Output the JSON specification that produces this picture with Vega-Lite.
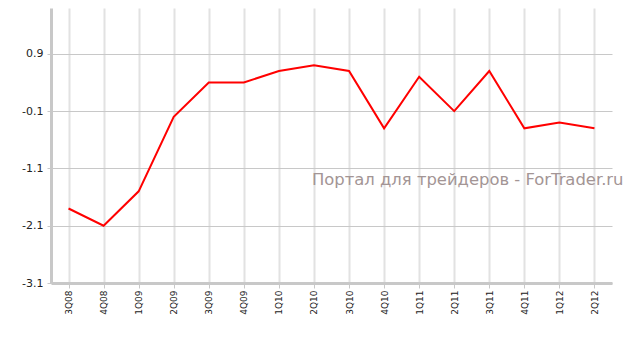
{
  "$schema": "https://vega.github.io/schema/vega-lite/v6.json",
  "width": 561,
  "height": 275,
  "autosize": "none",
  "padding": {"left": 51, "top": 8, "right": 17, "bottom": 54},
  "background": "white",
  "config": {
    "view": {"stroke": null},
    "font": "DejaVu Sans"
  },
  "data": {
    "values": [
      {"q": "3Q08", "v": -1.8},
      {"q": "4Q08", "v": -2.1},
      {"q": "1Q09", "v": -1.5},
      {"q": "2Q09", "v": -0.2},
      {"q": "3Q09", "v": 0.4},
      {"q": "4Q09", "v": 0.4},
      {"q": "1Q10", "v": 0.6},
      {"q": "2Q10", "v": 0.7},
      {"q": "3Q10", "v": 0.6},
      {"q": "4Q10", "v": -0.4},
      {"q": "1Q11", "v": 0.5},
      {"q": "2Q11", "v": -0.1},
      {"q": "3Q11", "v": 0.6},
      {"q": "4Q11", "v": -0.4},
      {"q": "1Q12", "v": -0.3},
      {"q": "2Q12", "v": -0.4}
    ]
  },
  "layer": [
    {
      "mark": {"type": "line", "color": "#ff0000", "strokeWidth": 2},
      "encoding": {
        "x": {
          "field": "q", "type": "ordinal", "sort": null,
          "scale": {"type": "point", "padding": 0.5,
            "domain": ["3Q08","4Q08","1Q09","2Q09","3Q09","4Q09","1Q10","2Q10","3Q10","4Q10","1Q11","2Q11","3Q11","4Q11","1Q12","2Q12"]},
          "axis": {
            "title": null, "labelAngle": -90, "labelFontSize": 9, "labelColor": "#222",
            "labelPadding": 2, "tickSize": 5, "tickColor": "#c8c8c8",
            "domainColor": "#c8c8c8", "domainWidth": 3,
            "grid": true, "gridColor": "#e2e2e2", "gridWidth": 2
          }
        },
        "y": {
          "field": "v", "type": "quantitative",
          "scale": {"domain": [-3.1, 1.7], "nice": false, "zero": false},
          "axis": {
            "title": null, "values": [-3.1, -2.1, -1.1, -0.1, 0.9],
            "labelExpr": "datum.value < 0 ? '-' + format(abs(datum.value), '.1f') : format(datum.value, '.1f')",
            "labelFontSize": 11, "labelColor": "#222", "labelPadding": 4,
            "tickSize": 4, "tickColor": "#c8c8c8",
            "domainColor": "#c8c8c8", "domainWidth": 3,
            "grid": true, "gridColor": "#c8c8c8", "gridWidth": 1
          }
        }
      }
    },
    {
      "data": {"values": [{"t": "Портал для трейдеров - ForTrader.ru", "q": "2Q10", "v": -1.3}]},
      "mark": {"type": "text", "align": "left", "baseline": "middle", "fontSize": 16.4, "color": "#a39595", "dx": -2},
      "encoding": {
        "x": {"field": "q", "type": "ordinal"},
        "y": {"field": "v", "type": "quantitative"},
        "text": {"field": "t"}
      }
    }
  ]
}
